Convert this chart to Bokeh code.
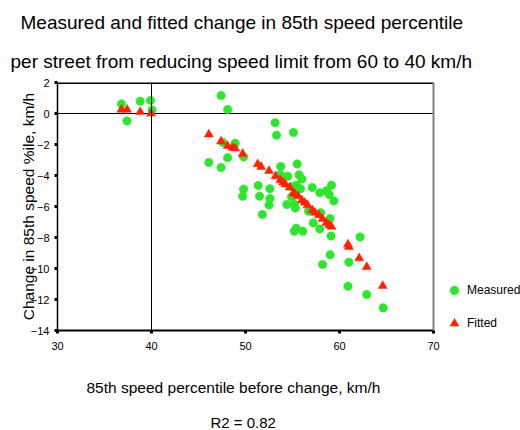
from bokeh.plotting import figure
from bokeh.models import Range1d, FixedTicker, Span, Title, Legend, LegendItem
from bokeh.embed import file_html
from bokeh.resources import INLINE

# ---- data ----
measured_x = [36.8, 37.4, 38.8, 39.9, 40.05, 47.4, 48.1, 46.1, 47.4, 47.6,
              48.9, 48.1, 49.8, 49.8, 49.7, 51.35, 51.5, 51.8, 53.15, 53.3,
              55.1, 53.75, 55.5, 53.7, 54.5, 55.7, 56.0, 52.6, 52.6, 52.5,
              54.4, 55.2, 55.3, 54.9, 55.85, 55.4, 57.1, 57.9, 58.6, 58.9,
              59.15, 59.4, 56.7, 58.0, 59.0, 57.2, 55.4, 55.2, 56.1, 57.9,
              59.1, 62.2, 59.0, 58.2, 61.0, 60.9, 62.9, 64.65, 54.9]
measured_y = [0.62, -0.48, 0.79, 0.84, 0.23, 1.16, 0.26, -3.16, -3.48, -1.87,
              -1.92, -2.85, -2.8, -4.88, -5.34, -4.65, -5.34, -6.52, -0.6, -1.4,
              -1.23, -3.42, -3.25, -3.94, -4.05, -3.96, -4.23, -4.86, -5.48, -5.9,
              -5.87, -5.85, -6.1, -5.38, -4.86, -4.63, -4.77, -5.12, -4.99, -5.23,
              -4.63, -5.64, -6.3, -6.41, -6.77, -7.06, -7.4, -7.6, -7.6, -7.45,
              -7.9, -7.96, -9.12, -9.74, -9.6, -11.14, -11.68, -12.54, -4.73]

fitted_x = [36.8, 37.4, 38.8, 39.95, 46.1, 47.4, 48.1, 48.6, 48.9, 49.7,
            51.3, 51.66, 52.5, 53.2, 53.7, 54.0, 54.25, 54.7, 55.1, 55.3,
            55.6, 56.0, 56.3, 56.6, 57.1, 57.4, 57.8, 58.2, 58.6, 58.9,
            59.15, 60.9, 61.0, 62.1, 62.9, 64.6]
fitted_y = [0.25, 0.25, 0.1, 0.0, -1.35, -1.8, -2.09, -2.2, -2.25, -2.6,
            -3.27, -3.44, -3.7, -4.05, -4.3, -4.45, -4.58, -4.77, -5.12, -5.2,
            -5.34, -5.6, -5.75, -5.92, -6.24, -6.4, -6.56, -6.8, -7.06, -7.2,
            -7.3, -8.45, -8.6, -9.34, -9.9, -11.12]

x_ticks = [30, 40, 50, 60, 70]
y_ticks = [-14, -12, -10, -8, -6, -4, -2, 0, 2]
x_bounds = [30, 70]
y_bounds = [-14, 2]
ref_x = 40
ref_y = 0
series_names = ["Measured", "Fitted"]
title_line1 = "Measured and fitted change in 85th speed percentile"
title_line2 = "per street from reducing speed limit from 60 to 40 km/h"
x_label = "85th speed percentile before change, km/h"
y_label = "Change in 85th speed %ile, km/h"
r2_text = "R2 = 0.82"

FONT = "Liberation Sans"

# frame extends to the right edge so the legend (outside the plot box) is not clipped
px_per_unit = 376.0 / (x_bounds[1] - x_bounds[0])
x_end = x_bounds[0] + (520 - 57) / px_per_unit

p = figure(width=520, height=430, output_backend="svg", toolbar_location=None,
           x_range=Range1d(x_bounds[0], x_end), y_range=Range1d(*y_bounds),
           min_border_left=57, min_border_right=0, min_border_top=82,
           min_border_bottom=100)
p.title.visible = False
p.grid.visible = False
p.background_fill_color = "white"
p.border_fill_color = "white"
p.outline_line_color = None

p.xaxis.ticker = FixedTicker(ticks=x_ticks)
p.yaxis.ticker = FixedTicker(ticks=y_ticks)
p.xaxis.bounds = tuple(x_bounds)
p.yaxis.bounds = tuple(y_bounds)
for ax in (p.xaxis[0], p.yaxis[0]):
    ax.axis_line_color = "black"
    ax.major_tick_line_color = "black"
    ax.major_tick_line_width = 3
    ax.major_tick_in = 0
    ax.major_tick_out = 3
    ax.minor_tick_line_color = None
    ax.major_label_text_font = FONT
    ax.major_label_text_font_size = "11px"
    ax.major_label_text_color = "black"
p.xaxis.axis_line_width = 2
p.yaxis.axis_line_width = 1.5
p.xaxis.major_label_standoff = 8
p.yaxis.major_label_standoff = 5
p.yaxis.axis_label = y_label
p.yaxis.axis_label_text_font = FONT
p.yaxis.axis_label_text_font_size = "15.5px"
p.yaxis.axis_label_text_font_style = "normal"
p.yaxis.axis_label_text_color = "black"
p.yaxis.axis_label_standoff = -9

# plot box: top (black), right (grey), reference lines
p.line(x_bounds, [y_bounds[1], y_bounds[1]], line_color="black", line_width=3)
p.add_layout(Span(location=x_bounds[1], dimension="height", line_color="#808080", line_width=2))
p.line(x_bounds, [ref_y, ref_y], line_color="black", line_width=1)
p.add_layout(Span(location=ref_x, dimension="height", line_color="black", line_width=1))

r_meas = p.scatter(measured_x, measured_y, marker="circle", size=8.5,
                   fill_color="#2ee62e", line_color="#2ee62e", line_width=0.5)
r_fit = p.scatter(fitted_x, fitted_y, marker="triangle", size=9,
                  fill_color="#ff2200", line_color="#ff2200", line_width=0.5)

legend = Legend(items=[LegendItem(label=series_names[0], renderers=[r_meas]),
                       LegendItem(label=series_names[1], renderers=[r_fit])],
                location=(386, -3.5), orientation="vertical",
                border_line_color=None, background_fill_alpha=0,
                padding=0, margin=0, spacing=11, glyph_width=22, glyph_height=22,
                label_height=22, label_standoff=2,
                label_text_font=FONT, label_text_font_size="12px",
                label_text_color="black")
p.add_layout(legend, "center")

def add_title(text, side, offset, size, standoff, valign):
    p.add_layout(Title(text=text, align="left", offset=offset, standoff=standoff,
                       vertical_align=valign,
                       text_font=FONT, text_font_size=size, text_font_style="normal",
                       text_color="black"), side)

# above: first added is nearest the frame
add_title(title_line2, "above", -47, "19px", 17, "top")
add_title(title_line1, "above", -37, "19px", 16, "top")
# below
add_title(x_label, "below", 29, "15.5px", 50, "middle")
add_title(r2_text, "below", 153, "15px", -18, "middle")

open("out.html", "w").write(file_html(p, INLINE))
